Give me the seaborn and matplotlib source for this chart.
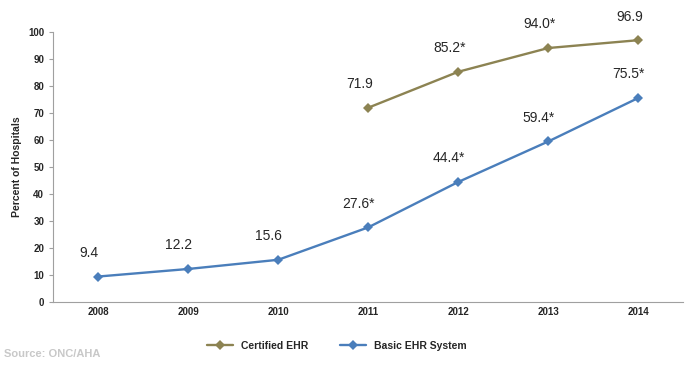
import pandas as pd
import matplotlib.pyplot as plt
import seaborn as sns

# data
years = [2008, 2009, 2010, 2011, 2012, 2013, 2014]
basic_ehr = [9.4, 12.2, 15.6, 27.6, 44.4, 59.4, 75.5]
basic_labels = ["9.4", "12.2", "15.6", "27.6*", "44.4*", "59.4*", "75.5*"]
certified_years = [2011, 2012, 2013, 2014]
certified_ehr = [71.9, 85.2, 94.0, 96.9]
certified_labels = ["71.9", "85.2*", "94.0*", "96.9"]

olive = "#8C8352"
blue = "#4A7EBB"

df = pd.concat([
    pd.DataFrame({"year": certified_years, "pct": certified_ehr, "series": "Certified EHR"}),
    pd.DataFrame({"year": years, "pct": basic_ehr, "series": "Basic EHR System"}),
])

sns.set_style("white")
plt.rcParams["font.family"] = ["Liberation Sans", "DejaVu Sans"]

fig = plt.figure(figsize=(7, 3.7), dpi=100)
ax = fig.add_axes([0.076, 0.184, 0.9, 0.73])

sns.lineplot(data=df, x="year", y="pct", hue="series",
             palette={"Certified EHR": olive, "Basic EHR System": blue},
             marker="D", markersize=5, markeredgewidth=0, linewidth=1.7,
             ax=ax)

# data labels sit above and slightly left of each point
for x, y, t in zip(years, basic_ehr, basic_labels):
    ax.annotate(t, (x, y), xytext=(-7, 17), textcoords="offset points",
                ha="center", va="center", fontsize=10)
for x, y, t in zip(certified_years, certified_ehr, certified_labels):
    ax.annotate(t, (x, y), xytext=(-6, 17), textcoords="offset points",
                ha="center", va="center", fontsize=10)

ax.set_xlim(2007.5, 2014.5)
ax.set_ylim(0, 100)
ax.set_yticks(range(0, 101, 10))
ax.set_xticks(years)
ax.set_xticklabels([str(y) for y in years], fontweight="bold", fontsize=7)
ax.set_yticklabels([str(v) for v in range(0, 101, 10)], fontweight="bold", fontsize=7)
ax.set_xlabel("")
ax.set_ylabel("Percent of Hospitals", fontweight="bold", fontsize=7.5)

for side in ["top", "right"]:
    ax.spines[side].set_visible(False)
for side in ["left", "bottom"]:
    ax.spines[side].set_color("#A0A0A0")
    ax.spines[side].set_linewidth(0.8)
ax.tick_params(axis="y", length=3, color="#A0A0A0", left=True)
ax.tick_params(axis="x", length=0)

ax.legend(loc="upper center", bbox_to_anchor=(0.45, -0.11), ncol=2, frameon=False,
          prop={"weight": "bold", "size": 7.5}, handlelength=2.5, columnspacing=3)

fig.text(0.005, 0.035, "Source: ONC/AHA", color="#C8C8C8", fontsize=8, fontweight="bold")

fig.savefig("out.png", dpi=100)
